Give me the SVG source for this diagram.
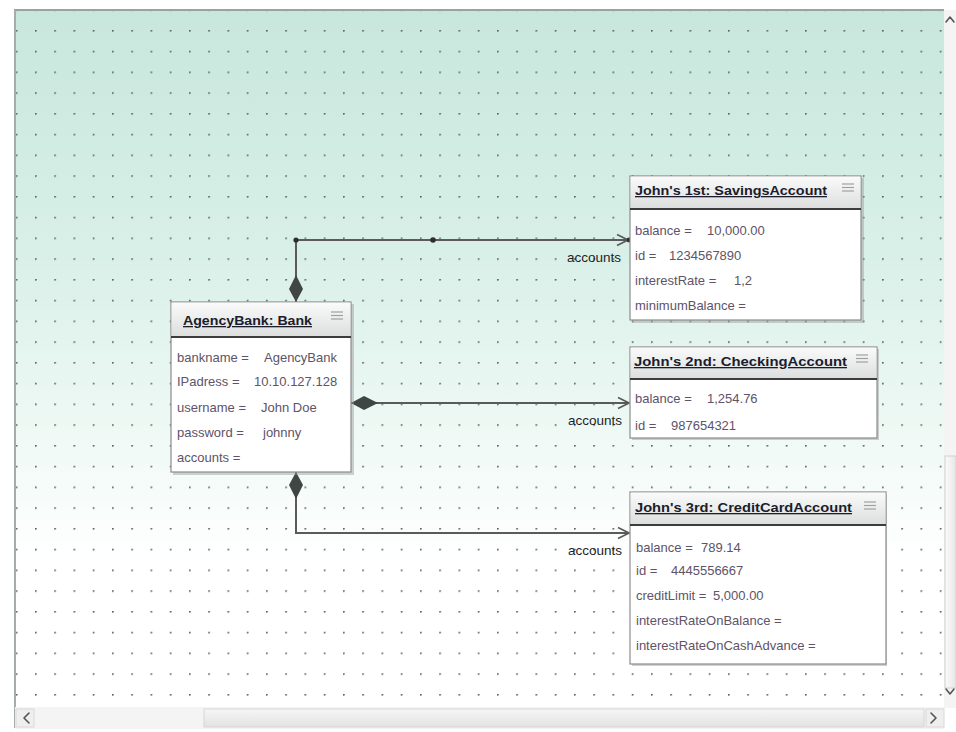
<svg xmlns="http://www.w3.org/2000/svg" width="956" height="732" viewBox="0 0 956 732">
  <defs>
    <style>
      .attr { font-family: "Liberation Sans", Arial, sans-serif; font-size: 13px; fill: #5e5368; }
      .title { font-family: "Liberation Sans", Arial, sans-serif; font-size: 13px; font-weight: bold; fill: #1c1c2c; text-decoration: underline; }
      .role { font-family: "Liberation Sans", Arial, sans-serif; font-size: 13.5px; fill: #1e1e1e; text-anchor: end; }
      .box { fill: #ffffff; stroke: #8c8c8c; stroke-width: 1.2; }
      .shadow { fill: #9a9a9a; opacity: 0.45; }
      .head { fill: url(#headGrad); }
      .sep { stroke: #3c3c3c; stroke-width: 2; }
      .menuline { stroke: #a0a0a0; stroke-width: 1.2; }
      .link { fill: none; stroke: #5a5a5a; stroke-width: 2; }
      .bend { fill: #2e2e2e; }
      .chev { fill: none; stroke: #555; stroke-width: 1.6; stroke-linecap: round; stroke-linejoin: round; }
    </style>
    <linearGradient id="bgGrad" x1="0" y1="10" x2="0" y2="560" gradientUnits="userSpaceOnUse">
      <stop offset="0" stop-color="#c8e7dc"/>
      <stop offset="0.45" stop-color="#d9f0e8"/>
      <stop offset="0.8" stop-color="#f1faf6"/>
      <stop offset="1" stop-color="#ffffff"/>
    </linearGradient>
    <linearGradient id="headGrad" x1="0" y1="0" x2="0" y2="1">
      <stop offset="0" stop-color="#fafafa"/>
      <stop offset="1" stop-color="#dcdede"/>
    </linearGradient>
    <linearGradient id="thumbV" x1="0" y1="0" x2="1" y2="0">
      <stop offset="0" stop-color="#fbfbfb"/>
      <stop offset="1" stop-color="#e6e6e6"/>
    </linearGradient>
    <linearGradient id="thumbH" x1="0" y1="0" x2="0" y2="1">
      <stop offset="0" stop-color="#f6f6f6"/>
      <stop offset="1" stop-color="#e2e2e2"/>
    </linearGradient>
    <pattern id="dots" x="35" y="30" width="19.25" height="20.75" patternUnits="userSpaceOnUse">
      <circle cx="0.8" cy="0.8" r="1" fill="#5f6864"/>
    </pattern>
    <!-- composition diamond at the whole end -->
    <marker id="diamond" markerUnits="userSpaceOnUse" markerWidth="30" markerHeight="16" viewBox="0 -8 30 16" refX="0" refY="0" orient="auto">
      <path d="M0,0 L13,-7 L27,0 L13,7 Z" fill="#3f4644"/>
    </marker>
    <!-- open navigability arrow -->
    <marker id="openArrow" markerUnits="userSpaceOnUse" markerWidth="14" markerHeight="14" viewBox="-13 -7 14 14" refX="0" refY="0" orient="auto">
      <path d="M-11,-5.5 L0,0 L-11,5.5" fill="none" stroke="#5a5a5a" stroke-width="1.6"/>
    </marker>
  </defs>

  <!-- window background -->
  <rect x="0" y="0" width="956" height="732" fill="#ffffff"/>

  <!-- drawing canvas -->
  <g id="canvas">
    <rect x="15" y="10" width="929" height="697" fill="url(#bgGrad)"/>
    <rect x="15" y="10" width="929" height="697" fill="url(#dots)"/>
    <line x1="14" y1="10" x2="944" y2="10" stroke="#9aa3a0" stroke-width="2"/>
    <line x1="15" y1="10" x2="15" y2="728" stroke="#a7adab" stroke-width="2"/>
  </g>

  <!-- scrollbars -->
  <g id="scrollbars">
    <rect x="944" y="10" width="12" height="698" fill="#f4f4f4"/>
    <polyline class="chev" points="946,22 950,17 954,22"/>
    <rect x="945" y="456" width="11" height="232" fill="url(#thumbV)" stroke="#d0d0d0"/>
    <polyline class="chev" points="946,689 950,694 954,689"/>
    <rect x="15" y="707" width="929" height="22" fill="#f4f4f4"/>
    <rect x="16" y="709" width="18" height="18" fill="#efefef" stroke="#d8d8d8"/>
    <polyline class="chev" points="29,713 24,718 29,723"/>
    <rect x="204" y="709" width="720" height="18" fill="url(#thumbH)" stroke="#d6d6d6"/>
    <rect x="926" y="709" width="18" height="18" fill="#efefef" stroke="#d8d8d8"/>
    <polyline class="chev" points="931,713 936,718 931,723"/>
  </g>

  <!-- connectors -->
  <g id="connectors">
    <path class="link" d="M296,302 L296,240 L628,240" marker-start="url(#diamond)" marker-end="url(#openArrow)"/>
    <circle class="bend" cx="296" cy="240" r="2.6"/>
    <circle class="bend" cx="433" cy="240" r="2.8"/>
    <circle class="bend" cx="629" cy="240" r="2.4"/>
    <text class="role" x="621" y="262">accounts</text>

    <path class="link" d="M351,403 L629,403" marker-start="url(#diamond)" marker-end="url(#openArrow)"/>
    <text class="role" x="622" y="425">accounts</text>

    <path class="link" d="M296,472 L296,533 L629,533" marker-start="url(#diamond)" marker-end="url(#openArrow)"/>
    <text class="role" x="622" y="555">accounts</text>
  </g>

  <!-- AgencyBank : Bank -->
  <g id="node-agencybank">
    <rect class="shadow" x="173" y="304" width="181" height="171"/>
    <rect class="box" x="171" y="302" width="180" height="170"/>
    <rect class="head" x="171.6" y="302.6" width="178.8" height="34"/>
    <line class="sep" x1="171" y1="337" x2="351" y2="337"/>
    <text class="title" x="183" y="325" textLength="129" lengthAdjust="spacingAndGlyphs">AgencyBank: Bank</text>
    <line class="menuline" x1="331" y1="312" x2="343" y2="312"/>
    <line class="menuline" x1="331" y1="315.5" x2="343" y2="315.5"/>
    <line class="menuline" x1="331" y1="319" x2="343" y2="319"/>
    <text class="attr" x="177" y="362">bankname =</text>
    <text class="attr" x="264" y="362">AgencyBank</text>
    <text class="attr" x="177" y="386">IPadress =</text>
    <text class="attr" x="254" y="386">10.10.127.128</text>
    <text class="attr" x="177" y="412">username =</text>
    <text class="attr" x="261" y="412">John Doe</text>
    <text class="attr" x="177" y="437">password =</text>
    <text class="attr" x="263" y="437">johnny</text>
    <text class="attr" x="177" y="462">accounts =</text>
  </g>

  <!-- John's 1st : SavingsAccount -->
  <g id="node-savings">
    <rect class="shadow" x="632" y="178" width="232" height="145"/>
    <rect class="box" x="630" y="176" width="231" height="144"/>
    <rect class="head" x="630.6" y="176.6" width="229.8" height="32"/>
    <line class="sep" x1="630" y1="209" x2="861" y2="209"/>
    <text class="title" x="635" y="195" textLength="192" lengthAdjust="spacingAndGlyphs">John's 1st: SavingsAccount</text>
    <line class="menuline" x1="842" y1="184" x2="854" y2="184"/>
    <line class="menuline" x1="842" y1="187.5" x2="854" y2="187.5"/>
    <line class="menuline" x1="842" y1="191" x2="854" y2="191"/>
    <text class="attr" x="635" y="235">balance =</text>
    <text class="attr" x="707" y="235">10,000.00</text>
    <text class="attr" x="635" y="260">id =</text>
    <text class="attr" x="669" y="260">1234567890</text>
    <text class="attr" x="635" y="285">interestRate =</text>
    <text class="attr" x="734" y="285">1,2</text>
    <text class="attr" x="635" y="310">minimumBalance =</text>
  </g>

  <!-- John's 2nd : CheckingAccount -->
  <g id="node-checking">
    <rect class="shadow" x="632" y="349" width="247" height="91"/>
    <rect class="box" x="630" y="347" width="247" height="91"/>
    <rect class="head" x="630.6" y="347.6" width="245.8" height="31"/>
    <line class="sep" x1="630" y1="379" x2="877" y2="379"/>
    <text class="title" x="634" y="366" textLength="213" lengthAdjust="spacingAndGlyphs">John's 2nd: CheckingAccount</text>
    <line class="menuline" x1="856" y1="355" x2="868" y2="355"/>
    <line class="menuline" x1="856" y1="358.5" x2="868" y2="358.5"/>
    <line class="menuline" x1="856" y1="362" x2="868" y2="362"/>
    <text class="attr" x="635" y="403">balance =</text>
    <text class="attr" x="707" y="403">1,254.76</text>
    <text class="attr" x="635" y="430">id =</text>
    <text class="attr" x="671" y="430">987654321</text>
  </g>

  <!-- John's 3rd : CreditCardAccount -->
  <g id="node-creditcard">
    <rect class="shadow" x="632" y="494" width="255" height="172"/>
    <rect class="box" x="630" y="492" width="256" height="172"/>
    <rect class="head" x="630.6" y="492.6" width="254.8" height="32"/>
    <line class="sep" x1="630" y1="525" x2="886" y2="525"/>
    <text class="title" x="635" y="512" textLength="217" lengthAdjust="spacingAndGlyphs">John's 3rd: CreditCardAccount</text>
    <line class="menuline" x1="864" y1="502" x2="876" y2="502"/>
    <line class="menuline" x1="864" y1="505.5" x2="876" y2="505.5"/>
    <line class="menuline" x1="864" y1="509" x2="876" y2="509"/>
    <text class="attr" x="636" y="552">balance =</text>
    <text class="attr" x="701" y="552">789.14</text>
    <text class="attr" x="636" y="575">id =</text>
    <text class="attr" x="671" y="575">4445556667</text>
    <text class="attr" x="636" y="600">creditLimit =</text>
    <text class="attr" x="713" y="600">5,000.00</text>
    <text class="attr" x="636" y="625">interestRateOnBalance =</text>
    <text class="attr" x="636" y="650">interestRateOnCashAdvance =</text>
  </g>
</svg>
